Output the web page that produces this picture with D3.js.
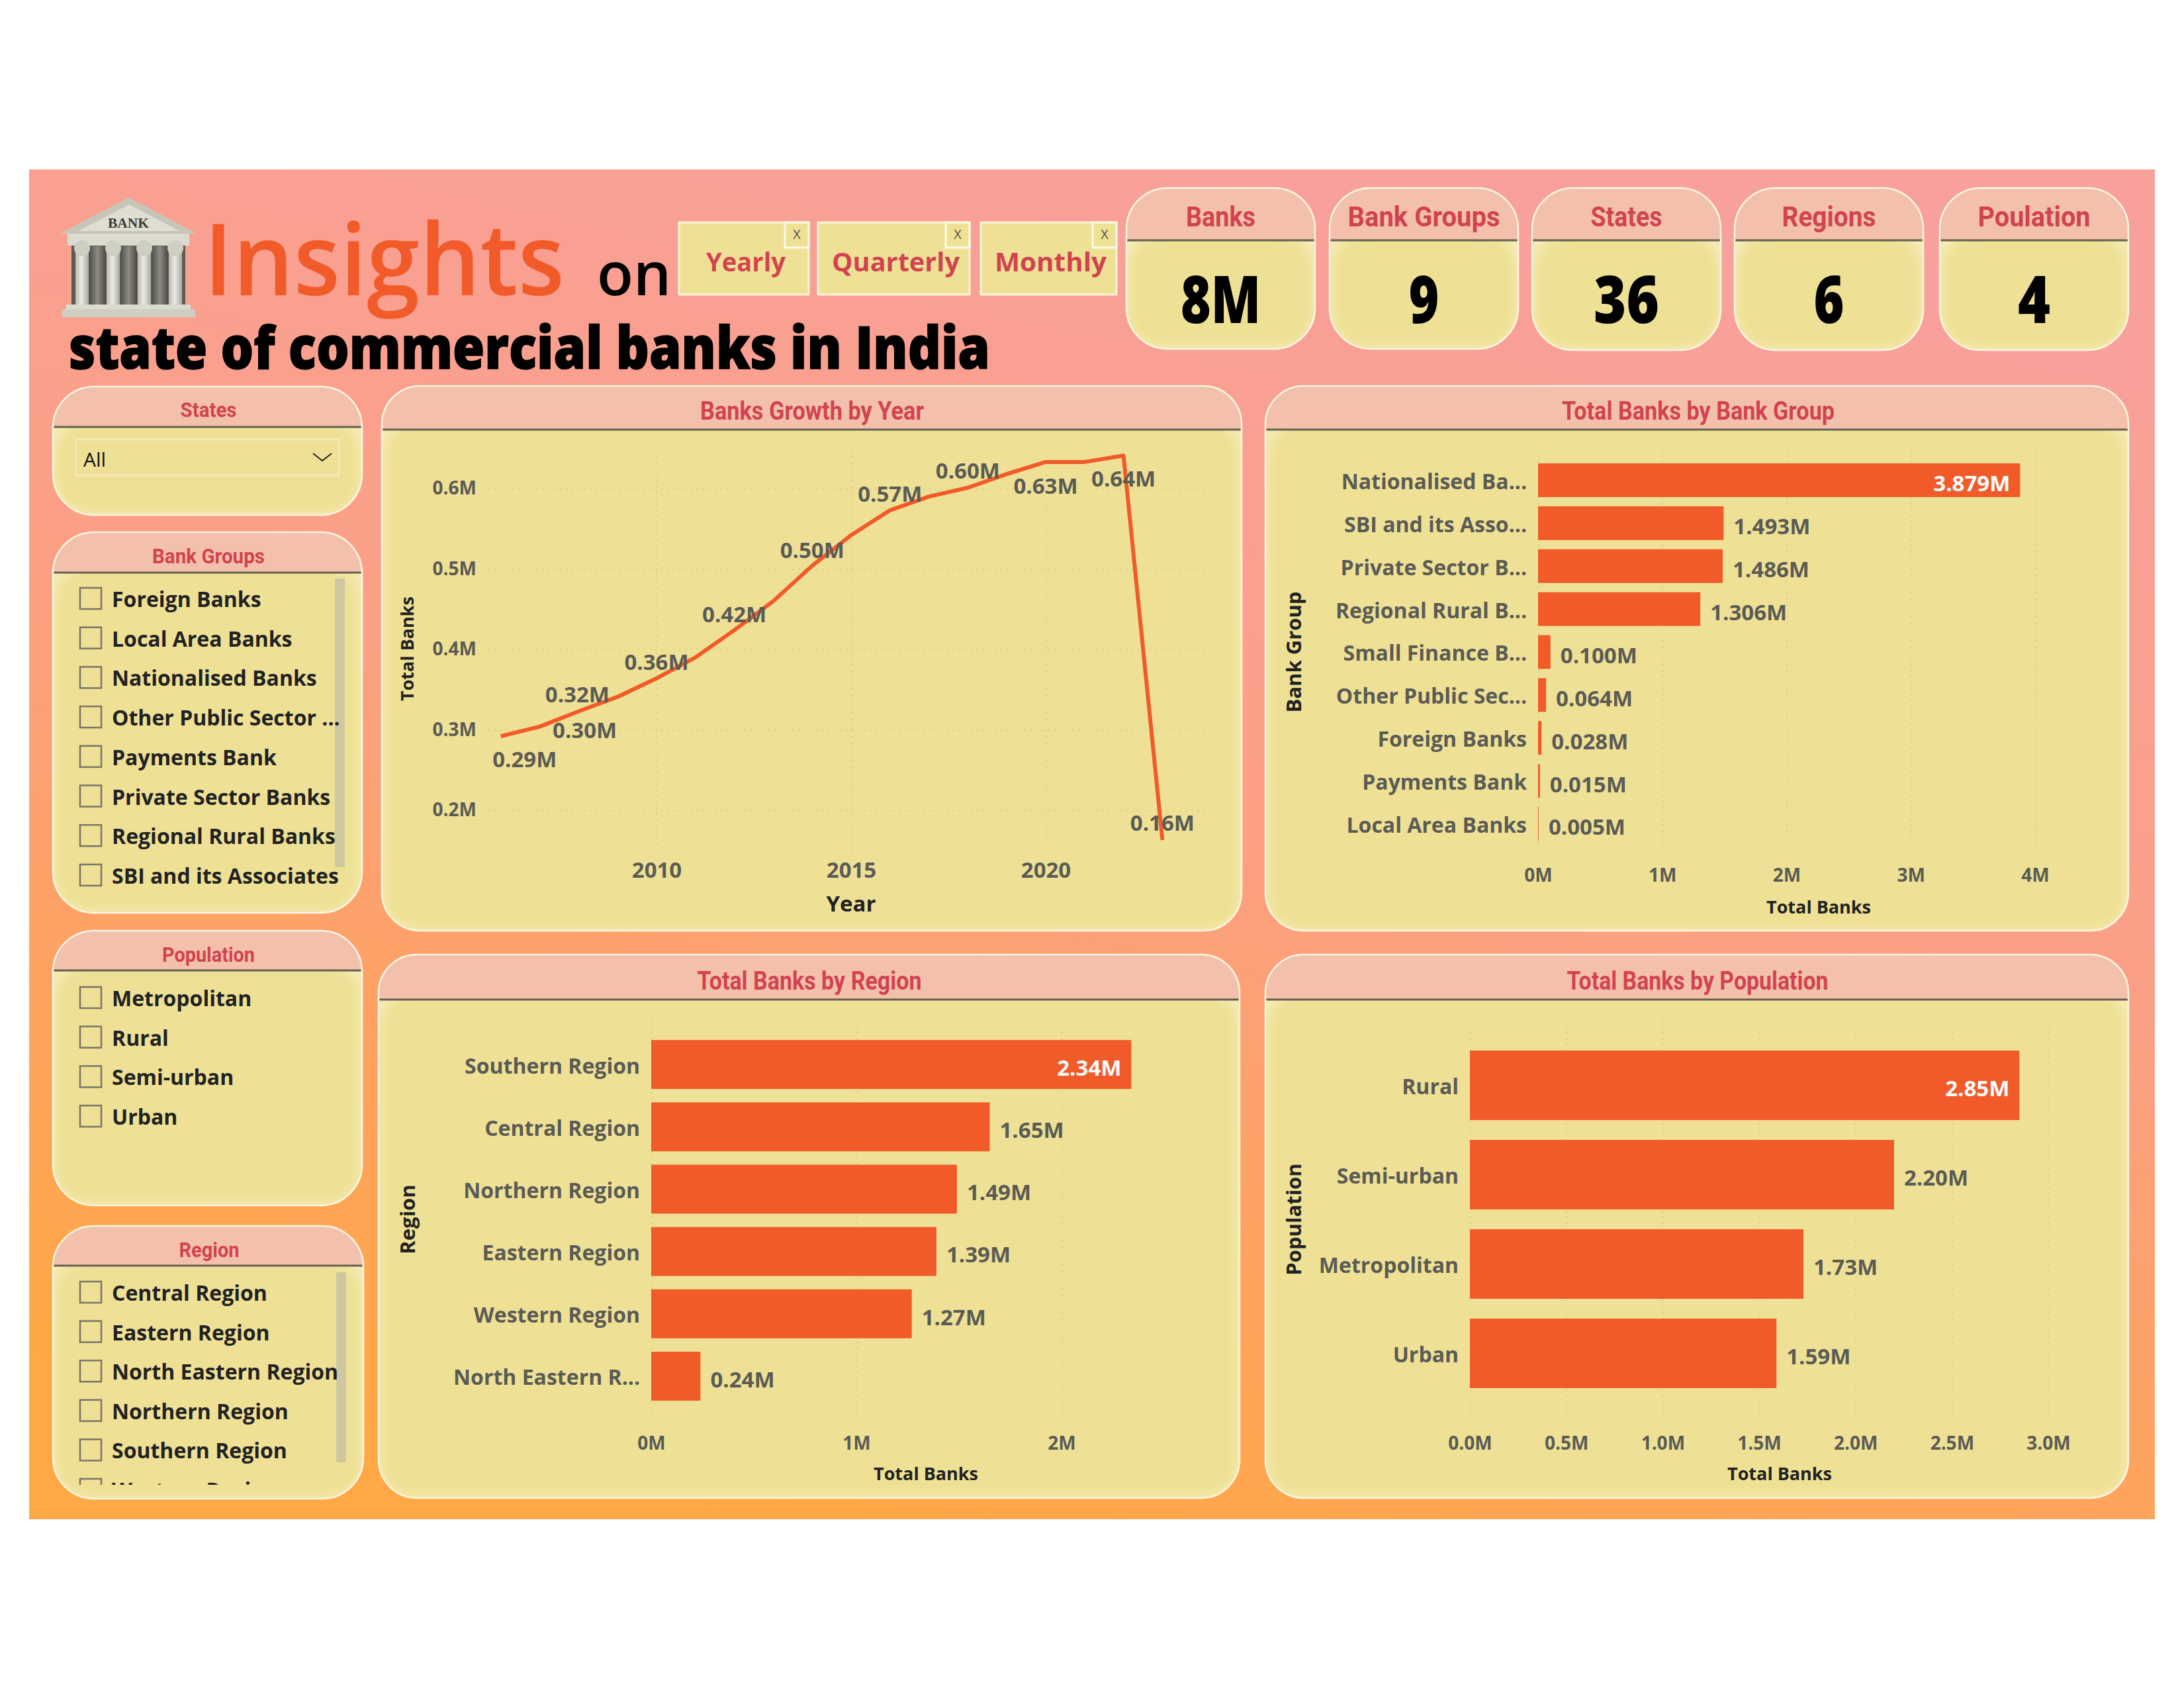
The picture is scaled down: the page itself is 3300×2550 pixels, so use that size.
<!DOCTYPE html>
<html>
<head>
<meta charset="utf-8">
<title>Insights on state of commercial banks in India</title>
<script src="https://cdn.jsdelivr.net/npm/d3@7"></script>
<style>
  html, body { margin: 0; padding: 0; background: #fff; }
  text { font-family: "Open Sans", sans-serif; }
  .title-font { font-family: Roboto, sans-serif; font-weight: 700; fill: #d2434f; }
  .tick text { fill: #5b5b55; font-weight: 700; }
  .grid .tick line { stroke: #d8cb8c; stroke-width: 2; stroke-dasharray: 2 7; }
  .grid .domain { display: none; }
</style>
</head>
<body>
<svg id="chart" width="3300" height="2550"></svg>
<script>
// KPI cards
const kpiNames = ["Banks", "Bank Groups", "States", "Regions", "Poulation"];
const kpiValues = ["8M", "9", "36", "6", "4"];

// header buttons
const buttonNames = ["Yearly", "Quarterly", "Monthly"];

// slicers
const bankGroupItems = ["Foreign Banks", "Local Area Banks", "Nationalised Banks", "Other Public Sector ...", "Payments Bank", "Private Sector Banks", "Regional Rural Banks", "SBI and its Associates"];
const populationItems = ["Metropolitan", "Rural", "Semi-urban", "Urban"];
const regionItems = ["Central Region", "Eastern Region", "North Eastern Region", "Northern Region", "Southern Region", "Western Region"];

// line chart
const years = [2006, 2007, 2008, 2009, 2010, 2011, 2012, 2013, 2014, 2015, 2016, 2017, 2018, 2019, 2020, 2021, 2022, 2023];
const yearTotals = [0.292, 0.304, 0.323, 0.341, 0.364, 0.390, 0.424, 0.460, 0.504, 0.542, 0.573, 0.590, 0.601, 0.618, 0.633, 0.633, 0.641, 0.163];
const labelledYears = [2006, 2007, 2008, 2010, 2012, 2014, 2016, 2018, 2020, 2022, 2023];
const yearTicks = [2010, 2015, 2020];
const totalTicks = [0.2, 0.3, 0.4, 0.5, 0.6];

// bar charts
const bankGroups = ["Nationalised Ba...", "SBI and its Asso...", "Private Sector B...", "Regional Rural B...", "Small Finance B...", "Other Public Sec...", "Foreign Banks", "Payments Bank", "Local Area Banks"];
const bankGroupTotals = [3.879, 1.493, 1.486, 1.306, 0.100, 0.064, 0.028, 0.015, 0.005];
const bankGroupTicks = [0, 1, 2, 3, 4];

const regions = ["Southern Region", "Central Region", "Northern Region", "Eastern Region", "Western Region", "North Eastern R..."];
const regionTotals = [2.34, 1.65, 1.49, 1.39, 1.27, 0.24];
const regionTicks = [0, 1, 2];

const populations = ["Rural", "Semi-urban", "Metropolitan", "Urban"];
const populationTotals = [2.85, 2.20, 1.73, 1.59];
const populationTicks = [0, 0.5, 1, 1.5, 2, 2.5, 3];

const svg = d3.select("#chart");
const defs = svg.append("defs");

// page background
const bg = defs.append("linearGradient").attr("id", "bgGrad")
  .attr("x1", 0.7).attr("y1", 0).attr("x2", 0.35).attr("y2", 1);
bg.append("stop").attr("offset", "0%").attr("stop-color", "#f8a09c");
bg.append("stop").attr("offset", "45%").attr("stop-color", "#fba086");
bg.append("stop").attr("offset", "70%").attr("stop-color", "#fda266");
bg.append("stop").attr("offset", "100%").attr("stop-color", "#ffa845");
svg.append("rect").attr("x", 44).attr("y", 256).attr("width", 3212).attr("height", 2039).attr("fill", "url(#bgGrad)");

defs.append("filter").attr("id", "glow").attr("x", "-10%").attr("y", "-10%").attr("width", "120%").attr("height", "120%")
  .append("feGaussianBlur").attr("stdDeviation", 9);

let clipCount = 0;

// Rounded card with a salmon header strip and a divider
function panel(x, y, w, h, dividerY, r) {
  const g = svg.append("g");
  const id = "clip" + (clipCount++);
  defs.append("clipPath").attr("id", id).append("rect")
    .attr("x", x).attr("y", y).attr("width", w).attr("height", h).attr("rx", r).attr("ry", r);
  const inner = g.append("g").attr("clip-path", `url(#${id})`);
  inner.append("rect").attr("x", x).attr("y", y).attr("width", w).attr("height", h).attr("fill", "#eee195");
  inner.append("rect").attr("x", x - 8).attr("y", dividerY - 20).attr("width", w + 16).attr("height", h - (dividerY - y) + 28)
    .attr("rx", r).attr("ry", r).attr("fill", "none").attr("stroke", "#f7eebf").attr("stroke-width", 18).attr("filter", "url(#glow)");
  inner.append("rect").attr("x", x).attr("y", y).attr("width", w).attr("height", dividerY - y).attr("fill", "#f3c1ab");
  g.append("line").attr("x1", x).attr("x2", x + w).attr("y1", dividerY).attr("y2", dividerY)
    .attr("stroke", "#66604f").attr("stroke-width", 3);
  g.append("rect").attr("x", x).attr("y", y).attr("width", w).attr("height", h).attr("rx", r).attr("ry", r)
    .attr("fill", "none").attr("stroke", "#fff6e2").attr("stroke-width", 2.5);
  return g;
}

// titles in the source are a narrow DIN-like face, so squeeze to the measured width
function panelTitle(text, cx, baseline, size, len) {
  svg.append("text").attr("class", "title-font").attr("x", cx).attr("y", baseline)
    .attr("text-anchor", "middle").attr("font-size", size)
    .attr("textLength", len).attr("lengthAdjust", "spacingAndGlyphs").text(text);
}

// ---------- bank icon ----------
function drawIcon() {
  const g = svg.append("g");
  const stone = defs.append("linearGradient").attr("id", "stone").attr("x1", 0).attr("x2", 1).attr("y1", 0).attr("y2", 0);
  stone.append("stop").attr("offset", "0%").attr("stop-color", "#4f4e4a");
  stone.append("stop").attr("offset", "50%").attr("stop-color", "#8d8b84");
  stone.append("stop").attr("offset", "100%").attr("stop-color", "#4a4945");
  const shaft = defs.append("linearGradient").attr("id", "shaft").attr("x1", 0).attr("x2", 1).attr("y1", 0).attr("y2", 0);
  shaft.append("stop").attr("offset", "0%").attr("stop-color", "#b9b8ad");
  shaft.append("stop").attr("offset", "45%").attr("stop-color", "#ecebe1");
  shaft.append("stop").attr("offset", "100%").attr("stop-color", "#aaa99f");

  g.append("polygon").attr("points", "195,298 297,353 90,353").attr("fill", "#c6c5b8");
  g.append("polygon").attr("points", "195,309 272,349 118,349").attr("fill", "#dfded2");
  g.append("text").attr("x", 194).attr("y", 344).attr("text-anchor", "middle").attr("font-size", 22)
    .attr("font-weight", 700).attr("fill", "#3b3a36").style("font-family", "Liberation Serif")
    .attr("textLength", 62).attr("lengthAdjust", "spacingAndGlyphs").text("BANK");
  g.append("rect").attr("x", 102).attr("y", 353).attr("width", 184).attr("height", 18).attr("fill", "#dcdbd0");
  g.append("rect").attr("x", 108).attr("y", 371).attr("width", 172).attr("height", 90).attr("fill", "#5c5b56");
  [[135, 160], [182, 207], [229, 254]].forEach(s => {
    g.append("rect").attr("x", s[0]).attr("y", 372).attr("width", s[1] - s[0]).attr("height", 88).attr("fill", "url(#stone)");
  });
  [124, 171, 218, 265].forEach(c => {
    g.append("rect").attr("x", c - 10).attr("y", 376).attr("width", 20).attr("height", 84).attr("fill", "url(#shaft)");
    g.append("circle").attr("cx", c).attr("cy", 375).attr("r", 12).attr("fill", "#cfcec3");
  });
  g.append("rect").attr("x", 100).attr("y", 460).attr("width", 188).attr("height", 7).attr("fill", "#dcdbd0");
  g.append("rect").attr("x", 94).attr("y", 467).attr("width", 201).attr("height", 12).attr("fill", "#cfcec3");
}
drawIcon();

// ---------- heading ----------
svg.append("text").attr("x", 308).attr("y", 446).attr("font-size", 150).attr("font-weight", 600)
  .attr("fill", "#f15a29").attr("textLength", 545).attr("lengthAdjust", "spacingAndGlyphs").text("Insights");
svg.append("text").attr("x", 902).attr("y", 446).attr("font-size", 90).attr("font-weight", 600)
  .attr("fill", "#000").text("on");
svg.append("text").attr("x", 104).attr("y", 557).attr("font-size", 88).attr("font-weight", 800)
  .attr("fill", "#000").attr("stroke", "#000").attr("stroke-width", 1.5)
  .attr("textLength", 1392).attr("lengthAdjust", "spacingAndGlyphs").text("state of commercial banks in India");

// ---------- period buttons ----------
const buttonX = d3.scaleOrdinal().domain(buttonNames).range([1026, 1236, 1482]);
const buttonW = d3.scaleOrdinal().domain(buttonNames).range([196, 229, 205]);
const buttonTextW = d3.scaleOrdinal().domain(buttonNames).range([120, 193, 169]);
buttonNames.forEach(name => {
  const x = buttonX(name), w = buttonW(name);
  svg.append("rect").attr("x", x).attr("y", 336).attr("width", w).attr("height", 109)
    .attr("fill", "#eee195").attr("stroke", "#fff4d8").attr("stroke-width", 3);
  svg.append("rect").attr("x", x + w - 36).attr("y", 336).attr("width", 36).attr("height", 38)
    .attr("fill", "#eee195").attr("stroke", "#fffbe8").attr("stroke-width", 3);
  svg.append("text").attr("x", x + w - 18).attr("y", 361).attr("text-anchor", "middle").attr("font-size", 20)
    .attr("fill", "#55534a").text("X");
  svg.append("text").attr("x", x + w / 2 + 3).attr("y", 410).attr("text-anchor", "middle")
    .attr("font-size", 40).attr("font-weight", 700).attr("fill", "#d2434f")
    .attr("textLength", buttonTextW(name)).attr("lengthAdjust", "spacingAndGlyphs").text(name);
});

// ---------- KPI cards ----------
const kpiX = d3.scaleOrdinal().domain(kpiNames).range([1702, 2009, 2315, 2621, 2931]);
const kpiTitleW = d3.scaleOrdinal().domain(kpiNames).range([105, 230, 108, 142, 170]);
const kpiValueW = d3.scaleOrdinal().domain(kpiValues).range([121, 46, 99, 46, 49]);
kpiNames.forEach((name, i) => {
  const x = kpiX(name), w = 285;
  panel(x, 284, w, i < 2 ? 243 : 245, 363, 62);
  panelTitle(name, x + w / 2, 342, 42, kpiTitleW(name));
  svg.append("text").attr("x", x + w / 2).attr("y", 488).attr("text-anchor", "middle")
    .attr("font-size", 100).attr("font-weight", 800).attr("fill", "#000")
    .attr("textLength", kpiValueW(kpiValues[i])).attr("lengthAdjust", "spacingAndGlyphs").text(kpiValues[i]);
});

// ---------- slicers ----------
function slicerList(items, firstY, step, clipBottom) {
  const id = "list" + (clipCount++);
  defs.append("clipPath").attr("id", id).append("rect").attr("x", 100).attr("y", firstY - 30).attr("width", 430).attr("height", clipBottom - firstY + 30);
  const g = svg.append("g").attr("clip-path", `url(#${id})`);
  const y = d3.scalePoint().domain(items).range([firstY, firstY + step * (items.length - 1)]);
  items.forEach(item => {
    g.append("rect").attr("x", 121).attr("y", y(item) - 16).attr("width", 32).attr("height", 32)
      .attr("fill", "none").attr("stroke", "#7a7468").attr("stroke-width", 2.5);
    g.append("text").attr("x", 169).attr("y", y(item) + 13).attr("font-size", 32).attr("font-weight", 700)
      .attr("fill", "#222").text(item);
  });
}

panel(80, 584, 467, 194, 645, 62);
panelTitle("States", 315, 630, 32, 85);
svg.append("rect").attr("x", 115).attr("y", 664).attr("width", 397).attr("height", 54)
  .attr("fill", "none").attr("stroke", "#f2eab8").attr("stroke-width", 3);
svg.append("text").attr("x", 126).attr("y", 705).attr("font-size", 30).attr("fill", "#111").text("All");
svg.append("path").attr("d", "M473,685 L487,696 L501,685").attr("fill", "none").attr("stroke", "#222").attr("stroke-width", 2);

panel(80, 804, 467, 575, 865, 62);
panelTitle("Bank Groups", 315, 851, 32, 170);
svg.append("rect").attr("x", 506).attr("y", 874).attr("width", 15).attr("height", 436).attr("fill", "#cfc79f");
slicerList(bankGroupItems, 904, 59.7, 1340);

panel(80, 1406, 467, 415, 1466, 62);
panelTitle("Population", 315, 1453, 32, 140);
slicerList(populationItems, 1507, 59.7, 1760);

panel(80, 1852, 469, 412, 1912, 62);
panelTitle("Region", 316, 1899, 32, 91);
svg.append("rect").attr("x", 508).attr("y", 1922).attr("width", 15).attr("height", 287).attr("fill", "#cfc79f");
slicerList(regionItems, 1952, 59.6, 2243);

// ---------- line chart ----------
function lineChart() {
  panel(577, 583, 1299, 823, 649, 58);
  panelTitle("Banks Growth by Year", 1227, 634, 38, 338);

  const x = d3.scaleLinear().domain([2010, 2020]).range([992, 1580]);
  const y = d3.scaleLinear().domain([0.2, 0.6]).range([1224, 738]);

  svg.append("g").attr("class", "grid").attr("transform", "translate(0,1285)")
    .call(d3.axisBottom(x).tickValues(yearTicks).tickFormat(d3.format("d")).tickSize(-610).tickPadding(18))
    .call(g => g.selectAll("text").attr("font-size", 33));
  svg.append("g").attr("class", "grid").attr("transform", "translate(738,0)")
    .call(d3.axisLeft(y).tickValues(totalTicks).tickFormat(d => d3.format(".1f")(d) + "M").tickSize(-1095).tickPadding(18))
    .call(g => g.selectAll("text").attr("font-size", 28));

  const line = d3.line().x(d => x(d[0])).y(d => y(d[1]));
  svg.append("path").datum(d3.zip(years, yearTotals))
    .attr("d", line).attr("fill", "none").attr("stroke", "#f15a29").attr("stroke-width", 6).attr("stroke-linejoin", "round");

  // label nudges, same order as labelledYears
  const nudgeX = [36, 68, -2, 0, 0, 0, 0, 0, 0, 0, 0];
  const nudgeY = [35, 5, -25, -25, -24, -24, -25, -26, 36, 35, -26];
  labelledYears.forEach((yr, i) => {
    const v = yearTotals[years.indexOf(yr)];
    svg.append("text").attr("x", x(yr) + nudgeX[i]).attr("y", y(v) + nudgeY[i]).attr("dy", "0.36em")
      .attr("text-anchor", "middle").attr("font-size", 33).attr("font-weight", 700).attr("fill", "#5b5b55")
      .text(d3.format(".2f")(v) + "M");
  });

  svg.append("text").attr("x", 1286).attr("y", 1377).attr("text-anchor", "middle").attr("font-size", 33)
    .attr("font-weight", 700).attr("fill", "#222").text("Year");
  svg.append("text").attr("transform", "translate(625,980) rotate(-90)").attr("text-anchor", "middle")
    .attr("font-size", 27).attr("font-weight", 700).attr("fill", "#222").text("Total Banks");
}
lineChart();

// ---------- horizontal bars ----------
function barChart(o) {
  panel(o.px, o.py, o.pw, o.ph, o.divider, 58);
  panelTitle(o.title, o.titleX, o.divider - 15, 38, o.titleW);

  const x = d3.scaleLinear().domain([o.ticks[0], o.ticks[o.ticks.length - 1]]).range([o.x0, o.x1]);
  const y = d3.scaleBand().domain(o.cats).range([o.y0, o.y1]).paddingInner(o.pad).paddingOuter(o.pad / 2);

  svg.append("g").attr("class", "grid").attr("transform", `translate(0,${o.gridBottom})`)
    .call(d3.axisBottom(x).tickValues(o.ticks).tickFormat(d => d3.format(o.tickFmt)(d) + "M").tickSize(-(o.gridBottom - o.gridTop)).tickPadding(o.tickPad))
    .call(g => g.selectAll("text").attr("font-size", 28));

  svg.append("g").selectAll("rect").data(o.vals).join("rect")
    .attr("x", x(0)).attr("y", (d, i) => y(o.cats[i])).attr("width", d => x(d) - x(0)).attr("height", y.bandwidth())
    .attr("fill", "#f15a29");

  svg.append("g").attr("transform", `translate(${o.x0},0)`)
    .call(d3.axisLeft(y).tickSize(0).tickPadding(17))
    .call(g => g.select(".domain").remove())
    .call(g => g.selectAll("text").attr("font-size", 32).attr("dy", "0.42em"));

  o.vals.forEach((v, i) => {
    const first = i === 0;
    svg.append("text").attr("x", x(v) + (first ? -15 : 15)).attr("y", y(o.cats[i]) + y.bandwidth() / 2 + 5).attr("dy", "0.36em")
      .attr("text-anchor", first ? "end" : "start").attr("font-size", 33).attr("font-weight", 700)
      .attr("fill", first ? "#fff" : "#5b5b55").text(d3.format(o.valFmt)(v) + "M");
  });

  svg.append("text").attr("x", o.xTitleX).attr("y", o.xTitleY).attr("text-anchor", "middle").attr("font-size", 27)
    .attr("font-weight", 700).attr("fill", "#222").text("Total Banks");
  svg.append("text").attr("transform", `translate(${o.yTitleX},${o.yTitleY}) rotate(-90)`).attr("text-anchor", "middle")
    .attr("font-size", 31).attr("font-weight", 700).attr("fill", "#222").text(o.yTitle);
}

barChart({
  title: "Total Banks by Bank Group", titleX: 2566, titleW: 412, px: 1912, py: 583, pw: 1304, ph: 823, divider: 649,
  cats: bankGroups, vals: bankGroupTotals, ticks: bankGroupTicks, tickFmt: "d", valFmt: ".3f",
  x0: 2324, x1: 3075, y0: 693, y1: 1277, pad: 0.215, gridTop: 675, gridBottom: 1275, tickPad: 37,
  xTitleX: 2748, xTitleY: 1380, yTitle: "Bank Group", yTitleX: 1966, yTitleY: 985
});

barChart({
  title: "Total Banks by Region", titleX: 1223, titleW: 339, px: 572, py: 1442, pw: 1301, ph: 821, divider: 1510,
  cats: regions, vals: regionTotals, ticks: regionTicks, tickFmt: "d", valFmt: ".2f",
  x0: 984, x1: 1604, y0: 1561, y1: 2126, pad: 0.215, gridTop: 1534, gridBottom: 2137, tickPad: 33,
  xTitleX: 1399, xTitleY: 2236, yTitle: "Region", yTitleX: 627, yTitleY: 1842
});

barChart({
  title: "Total Banks by Population", titleX: 2565, titleW: 395, px: 1912, py: 1442, pw: 1304, ph: 821, divider: 1510,
  cats: populations, vals: populationTotals, ticks: populationTicks, tickFmt: ".1f", valFmt: ".2f",
  x0: 2221, x1: 3095, y0: 1572, y1: 2112, pad: 0.222, gridTop: 1534, gridBottom: 2137, tickPad: 33,
  xTitleX: 2689, xTitleY: 2236, yTitle: "Population", yTitleX: 1966, yTitleY: 1842
});
</script>
</body>
</html>
